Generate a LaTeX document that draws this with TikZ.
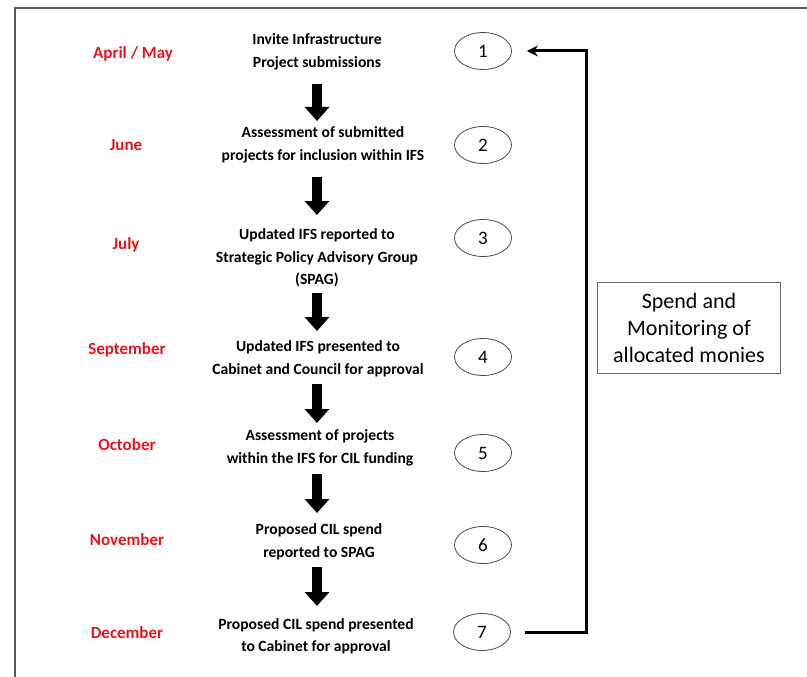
\documentclass[tikz,border=0pt]{standalone}
\usepackage{fontspec}
\setmainfont{Carlito}
\usetikzlibrary{arrows.meta,shapes.geometric}
\definecolor{monthred}{RGB}{232,20,28}
\definecolor{framegray}{RGB}{90,90,90}
\begin{document}
\begin{tikzpicture}[x=1pt,y=-1pt,
  month/.style={text=monthred, font=\bfseries\fontsize{17}{19}\selectfont, inner sep=0},
  stepbox/.style={align=center, font=\bfseries\fontsize{15.6}{22.5}\selectfont, inner sep=0},
  num/.style={ellipse, draw=black!70, line width=0.8pt, minimum width=57pt, minimum height=37pt, inner sep=0, font=\fontsize{19}{20}\selectfont},
  blockarrow/.style={line width=10pt, -{Triangle[width=24pt,length=14pt]}},
  loopline/.style={line width=3pt, -{Stealth[width=11pt,length=11pt]}},
  spendbox/.style={draw=black!60, line width=0.8pt, minimum width=183pt, minimum height=91pt, align=center, font=\fontsize{22}{27}\selectfont}
]
\useasboundingbox (0,0) rectangle (807,677);
\fill[white] (0,0) rectangle (807,677);
% frame
\coordinate (fa) at (15,677);
\coordinate (fb) at (15,8);
\coordinate (fc) at (807,8);
\draw[framegray, line width=1.8pt] (fa) -- (fb) -- (fc);

% months
\node[month] (m1) at (133,54) {April / May};
\node[month] (m2) at (126,145) {June};
\node[month] (m3) at (126,245) {July};
\node[month] (m4) at (127,350) {September};
\node[month] (m5) at (127,445) {October};
\node[month] (m6) at (127,540) {November};
\node[month] (m7) at (127,633) {December};

% steps
\node[stepbox] (s1) at (317,52) {Invite Infrastructure\\Project submissions};
\node[stepbox] (s2) at (323,145) {Assessment of submitted\\projects for inclusion within IFS};
\node[stepbox] (s3) at (317,258) {Updated IFS reported to\\Strategic Policy Advisory Group\\(SPAG)};
\node[stepbox] (s4) at (318,359) {Updated IFS presented to\\Cabinet and Council for approval};
\node[stepbox] (s5) at (320,448) {Assessment of projects\\within the IFS for CIL funding};
\node[stepbox] (s6) at (319,542) {Proposed CIL spend\\reported to SPAG};
\node[stepbox] (s7) at (316,636) {Proposed CIL spend presented\\to Cabinet for approval};

% numbers
\node[num] (n1) at (483,51) {1};
\node[num] (n2) at (483,145) {2};
\node[num] (n3) at (483,238) {3};
\node[num] (n4) at (483,357) {4};
\node[num] (n5) at (483,453) {5};
\node[num] (n6) at (483,545) {6};
\node[num] (n7) at (482,632) {7};

% block arrows
\coordinate (a1s) at (317,84); \coordinate (a1e) at (317,121);
\coordinate (a2s) at (317,177); \coordinate (a2e) at (317,215);
\coordinate (a3s) at (317,293); \coordinate (a3e) at (317,331);
\coordinate (a4s) at (317,384); \coordinate (a4e) at (317,423);
\coordinate (a5s) at (317,474); \coordinate (a5e) at (317,513);
\coordinate (a6s) at (317,567); \coordinate (a6e) at (317,606);
\draw[blockarrow] (a1s) -- (a1e);
\draw[blockarrow] (a2s) -- (a2e);
\draw[blockarrow] (a3s) -- (a3e);
\draw[blockarrow] (a4s) -- (a4e);
\draw[blockarrow] (a5s) -- (a5e);
\draw[blockarrow] (a6s) -- (a6e);

% feedback loop
\coordinate (lb) at (586,632);
\coordinate (lt) at (586,51);
\draw[loopline, line join=miter] ([xshift=14pt]n7.east) -- (lb) -- (lt) -- ([xshift=15pt]n1.east);

% spend box
\node[spendbox] (sp) at (689,328) {Spend and\\Monitoring of\\allocated monies};
\end{tikzpicture}
\end{document}
